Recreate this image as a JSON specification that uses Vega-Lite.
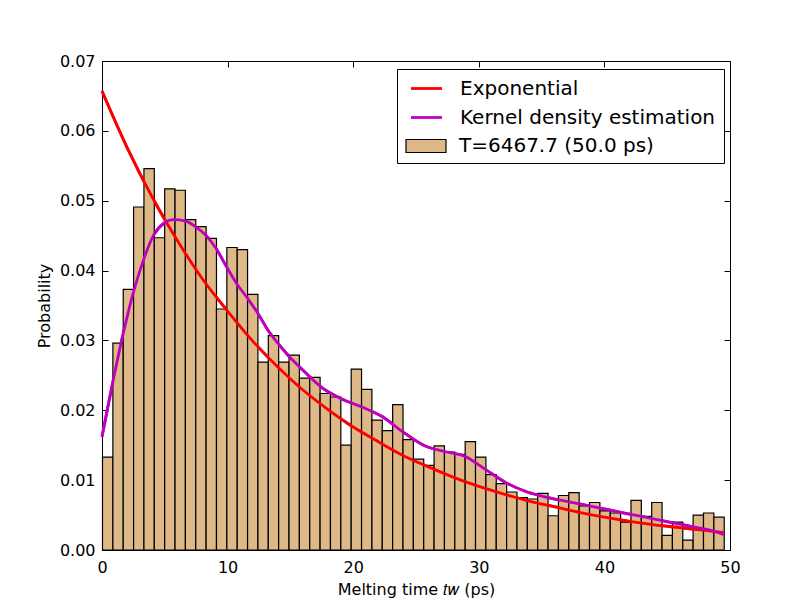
{
  "$schema": "https://vega.github.io/schema/vega-lite/v6.json",
  "autosize": "none",
  "width": 628,
  "height": 489,
  "padding": {"left": 102, "top": 61, "right": 82, "bottom": 62},
  "background": "white",
  "config": {
    "font": "DejaVu Sans",
    "view": {"stroke": "black", "strokeWidth": 1},
    "axis": {
      "grid": false,
      "domain": false,
      "tickColor": "black",
      "tickSize": -6,
      "tickWidth": 1,
      "labelFlush": false,
      "labelOverlap": false,
      "labelFont": "DejaVu Sans",
      "labelFontSize": 16,
      "labelColor": "black",
      "titleFont": "DejaVu Sans",
      "titleFontSize": 16,
      "titleFontWeight": "normal",
      "titleColor": "black"
    },
    "legend": {
      "labelFont": "DejaVu Sans",
      "labelFontSize": 20,
      "labelColor": "black",
      "labelLimit": 400,
      "cornerRadius": 0
    }
  },
  "datasets": {
    "hist": [
      {"t0": 0, "t1": 0.825, "p": 0.0133},
      {"t0": 0.825, "t1": 1.65, "p": 0.0296},
      {"t0": 1.65, "t1": 2.475, "p": 0.0373},
      {"t0": 2.475, "t1": 3.3, "p": 0.0491},
      {"t0": 3.3, "t1": 4.125, "p": 0.0546},
      {"t0": 4.125, "t1": 4.95, "p": 0.0447},
      {"t0": 4.95, "t1": 5.775, "p": 0.0517},
      {"t0": 5.775, "t1": 6.6, "p": 0.0515},
      {"t0": 6.6, "t1": 7.425, "p": 0.0473},
      {"t0": 7.425, "t1": 8.25, "p": 0.0463},
      {"t0": 8.25, "t1": 9.075, "p": 0.0446},
      {"t0": 9.075, "t1": 9.9, "p": 0.0345},
      {"t0": 9.9, "t1": 10.725, "p": 0.0433},
      {"t0": 10.725, "t1": 11.55, "p": 0.0430},
      {"t0": 11.55, "t1": 12.375, "p": 0.0366},
      {"t0": 12.375, "t1": 13.2, "p": 0.0269},
      {"t0": 13.2, "t1": 14.025, "p": 0.0307},
      {"t0": 14.025, "t1": 14.85, "p": 0.0269},
      {"t0": 14.85, "t1": 15.675, "p": 0.0279},
      {"t0": 15.675, "t1": 16.5, "p": 0.0246},
      {"t0": 16.5, "t1": 17.325, "p": 0.0247},
      {"t0": 17.325, "t1": 18.15, "p": 0.0224},
      {"t0": 18.15, "t1": 18.975, "p": 0.0219},
      {"t0": 18.975, "t1": 19.8, "p": 0.0150},
      {"t0": 19.8, "t1": 20.625, "p": 0.0259},
      {"t0": 20.625, "t1": 21.45, "p": 0.0230},
      {"t0": 21.45, "t1": 22.275, "p": 0.0186},
      {"t0": 22.275, "t1": 23.1, "p": 0.0171},
      {"t0": 23.1, "t1": 23.925, "p": 0.0208},
      {"t0": 23.925, "t1": 24.75, "p": 0.0158},
      {"t0": 24.75, "t1": 25.575, "p": 0.0130},
      {"t0": 25.575, "t1": 26.4, "p": 0.0121},
      {"t0": 26.4, "t1": 27.225, "p": 0.0149},
      {"t0": 27.225, "t1": 28.05, "p": 0.0140},
      {"t0": 28.05, "t1": 28.875, "p": 0.0137},
      {"t0": 28.875, "t1": 29.7, "p": 0.0155},
      {"t0": 29.7, "t1": 30.525, "p": 0.0133},
      {"t0": 30.525, "t1": 31.35, "p": 0.0108},
      {"t0": 31.35, "t1": 32.175, "p": 0.0095},
      {"t0": 32.175, "t1": 33.0, "p": 0.0083},
      {"t0": 33.0, "t1": 33.825, "p": 0.0075},
      {"t0": 33.825, "t1": 34.65, "p": 0.0073},
      {"t0": 34.65, "t1": 35.475, "p": 0.0081},
      {"t0": 35.475, "t1": 36.3, "p": 0.0049},
      {"t0": 36.3, "t1": 37.125, "p": 0.0078},
      {"t0": 37.125, "t1": 37.95, "p": 0.0082},
      {"t0": 37.95, "t1": 38.775, "p": 0.0063},
      {"t0": 38.775, "t1": 39.6, "p": 0.0068},
      {"t0": 39.6, "t1": 40.425, "p": 0.0056},
      {"t0": 40.425, "t1": 41.25, "p": 0.0053},
      {"t0": 41.25, "t1": 42.075, "p": 0.0040},
      {"t0": 42.075, "t1": 42.9, "p": 0.0071},
      {"t0": 42.9, "t1": 43.725, "p": 0.0048},
      {"t0": 43.725, "t1": 44.55, "p": 0.0068},
      {"t0": 44.55, "t1": 45.375, "p": 0.0021},
      {"t0": 45.375, "t1": 46.2, "p": 0.0040},
      {"t0": 46.2, "t1": 47.025, "p": 0.0014},
      {"t0": 47.025, "t1": 47.85, "p": 0.0050},
      {"t0": 47.85, "t1": 48.675, "p": 0.0053},
      {"t0": 48.675, "t1": 49.5, "p": 0.0047}
    ],
    "curves": [
      {"series": "Exponential", "t": 0, "p": 0.0657},
      {"series": "Exponential", "t": 2, "p": 0.0576},
      {"series": "Exponential", "t": 4, "p": 0.0505},
      {"series": "Exponential", "t": 6, "p": 0.0443},
      {"series": "Exponential", "t": 8, "p": 0.0388},
      {"series": "Exponential", "t": 10, "p": 0.0342},
      {"series": "Exponential", "t": 12, "p": 0.0299},
      {"series": "Exponential", "t": 14, "p": 0.0262},
      {"series": "Exponential", "t": 16, "p": 0.0229},
      {"series": "Exponential", "t": 18, "p": 0.0201},
      {"series": "Exponential", "t": 20, "p": 0.0176},
      {"series": "Exponential", "t": 22, "p": 0.0155},
      {"series": "Exponential", "t": 24, "p": 0.0135},
      {"series": "Exponential", "t": 26, "p": 0.0119},
      {"series": "Exponential", "t": 28, "p": 0.0104},
      {"series": "Exponential", "t": 30, "p": 0.0091},
      {"series": "Exponential", "t": 32, "p": 0.0080},
      {"series": "Exponential", "t": 34, "p": 0.0070},
      {"series": "Exponential", "t": 36, "p": 0.0062},
      {"series": "Exponential", "t": 38, "p": 0.0054},
      {"series": "Exponential", "t": 40, "p": 0.0047},
      {"series": "Exponential", "t": 42, "p": 0.0041},
      {"series": "Exponential", "t": 44, "p": 0.0036},
      {"series": "Exponential", "t": 46, "p": 0.0032},
      {"series": "Exponential", "t": 48, "p": 0.0028},
      {"series": "Exponential", "t": 49.5, "p": 0.0025},
      {"series": "Kernel density estimation", "t": 0, "p": 0.0162},
      {"series": "Kernel density estimation", "t": 1.54, "p": 0.0298},
      {"series": "Kernel density estimation", "t": 2.47, "p": 0.0367},
      {"series": "Kernel density estimation", "t": 3.3, "p": 0.0415},
      {"series": "Kernel density estimation", "t": 4.12, "p": 0.0451},
      {"series": "Kernel density estimation", "t": 4.94, "p": 0.0468},
      {"series": "Kernel density estimation", "t": 5.7, "p": 0.0473},
      {"series": "Kernel density estimation", "t": 6.6, "p": 0.0471},
      {"series": "Kernel density estimation", "t": 7.43, "p": 0.0463},
      {"series": "Kernel density estimation", "t": 8.25, "p": 0.0451},
      {"series": "Kernel density estimation", "t": 9.07, "p": 0.0432},
      {"series": "Kernel density estimation", "t": 9.9, "p": 0.0406},
      {"series": "Kernel density estimation", "t": 10.7, "p": 0.0382},
      {"series": "Kernel density estimation", "t": 11.6, "p": 0.0360},
      {"series": "Kernel density estimation", "t": 12.4, "p": 0.0339},
      {"series": "Kernel density estimation", "t": 13.2, "p": 0.0315},
      {"series": "Kernel density estimation", "t": 14.0, "p": 0.0296},
      {"series": "Kernel density estimation", "t": 14.9, "p": 0.0277},
      {"series": "Kernel density estimation", "t": 15.8, "p": 0.0261},
      {"series": "Kernel density estimation", "t": 17.4, "p": 0.0234},
      {"series": "Kernel density estimation", "t": 19.0, "p": 0.0217},
      {"series": "Kernel density estimation", "t": 20.65, "p": 0.0205},
      {"series": "Kernel density estimation", "t": 22.3, "p": 0.0191},
      {"series": "Kernel density estimation", "t": 23.96, "p": 0.0169},
      {"series": "Kernel density estimation", "t": 25.6, "p": 0.0150},
      {"series": "Kernel density estimation", "t": 27.25, "p": 0.0141},
      {"series": "Kernel density estimation", "t": 28.9, "p": 0.0134},
      {"series": "Kernel density estimation", "t": 30.55, "p": 0.0115},
      {"series": "Kernel density estimation", "t": 32.2, "p": 0.0096},
      {"series": "Kernel density estimation", "t": 33.85, "p": 0.0083},
      {"series": "Kernel density estimation", "t": 35.5, "p": 0.0075},
      {"series": "Kernel density estimation", "t": 37.15, "p": 0.0069},
      {"series": "Kernel density estimation", "t": 38.8, "p": 0.0063},
      {"series": "Kernel density estimation", "t": 40.5, "p": 0.0057},
      {"series": "Kernel density estimation", "t": 42.1, "p": 0.0051},
      {"series": "Kernel density estimation", "t": 43.8, "p": 0.0045},
      {"series": "Kernel density estimation", "t": 45.45, "p": 0.0039},
      {"series": "Kernel density estimation", "t": 47.1, "p": 0.0033},
      {"series": "Kernel density estimation", "t": 48.7, "p": 0.0027},
      {"series": "Kernel density estimation", "t": 49.5, "p": 0.0022}
    ]
  },
  "layer": [
    {
      "data": {"name": "curves"},
      "mark": {"type": "line", "strokeWidth": 2.8, "interpolate": "monotone"},
      "encoding": {
        "x": {
          "field": "t", "type": "quantitative",
          "scale": {"domain": [0, 50], "nice": false},
          "axis": {"values": [0, 10, 20, 30, 40, 50], "labelPadding": 15, "title": "Melting time 𝑡𝑤  (ps)", "titlePadding": 6}
        },
        "y": {
          "field": "p", "type": "quantitative",
          "scale": {"domain": [0, 0.07], "nice": false},
          "axis": {"values": [0, 0.01, 0.02, 0.03, 0.04, 0.05, 0.06, 0.07], "format": ".2f", "labelPadding": 13, "title": "Probability", "titlePadding": 7}
        },
        "stroke": {
          "field": "series", "type": "nominal",
          "scale": {"domain": ["Exponential", "Kernel density estimation"], "range": ["#ff0000", "#bf00bf"]},
          "legend": {
            "orient": "none",
            "legendX": 295,
            "legendY": 8,
            "title": " ",
            "titleOrient": "bottom",
            "titleFontSize": 20,
            "titlePadding": 7,
            "strokeColor": "black",
            "fillColor": "white",
            "padding": 8,
            "symbolType": "M-1.55,0H1.55",
            "symbolSize": 400,
            "symbolStrokeWidth": 2.8,
            "symbolOffset": 10,
            "labelOffset": 22,
            "rowPadding": 7
          }
        }
      }
    },
    {
      "data": {"name": "hist"},
      "transform": [{"calculate": "'T=6467.7 (50.0 ps)'", "as": "series"}],
      "mark": {"type": "bar", "stroke": "black", "strokeWidth": 1.2, "binSpacing": 0},
      "encoding": {
        "x": {"field": "t0", "type": "quantitative", "bin": "binned", "axis": {"orient": "top", "values": [0, 10, 20, 30, 40, 50], "labels": false, "title": null}},
        "x2": {"field": "t1"},
        "y": {"field": "p", "type": "quantitative", "axis": {"orient": "right", "values": [0, 0.01, 0.02, 0.03, 0.04, 0.05, 0.06, 0.07], "labels": false, "title": null}},
        "fill": {
          "field": "series", "type": "nominal",
          "scale": {"range": ["#deb887"]},
          "legend": {
            "orient": "none",
            "legendX": 295,
            "legendY": 66,
            "title": null,
            "padding": 8,
            "symbolType": "M-2,-0.65H2V0.65H-2Z",
            "symbolSize": 400,
            "symbolStrokeColor": "black",
            "symbolStrokeWidth": 1.2,
            "symbolOffset": 10,
            "labelOffset": 22
          }
        }
      }
    },
    {
      "data": {"name": "curves"},
      "mark": {"type": "line", "strokeWidth": 2.8, "interpolate": "monotone"},
      "encoding": {
        "x": {"field": "t", "type": "quantitative", "axis": null},
        "y": {"field": "p", "type": "quantitative", "axis": null},
        "stroke": {"field": "series", "type": "nominal"}
      }
    }
  ],
  "resolve": {"axis": {"x": "independent", "y": "independent"}}
}
